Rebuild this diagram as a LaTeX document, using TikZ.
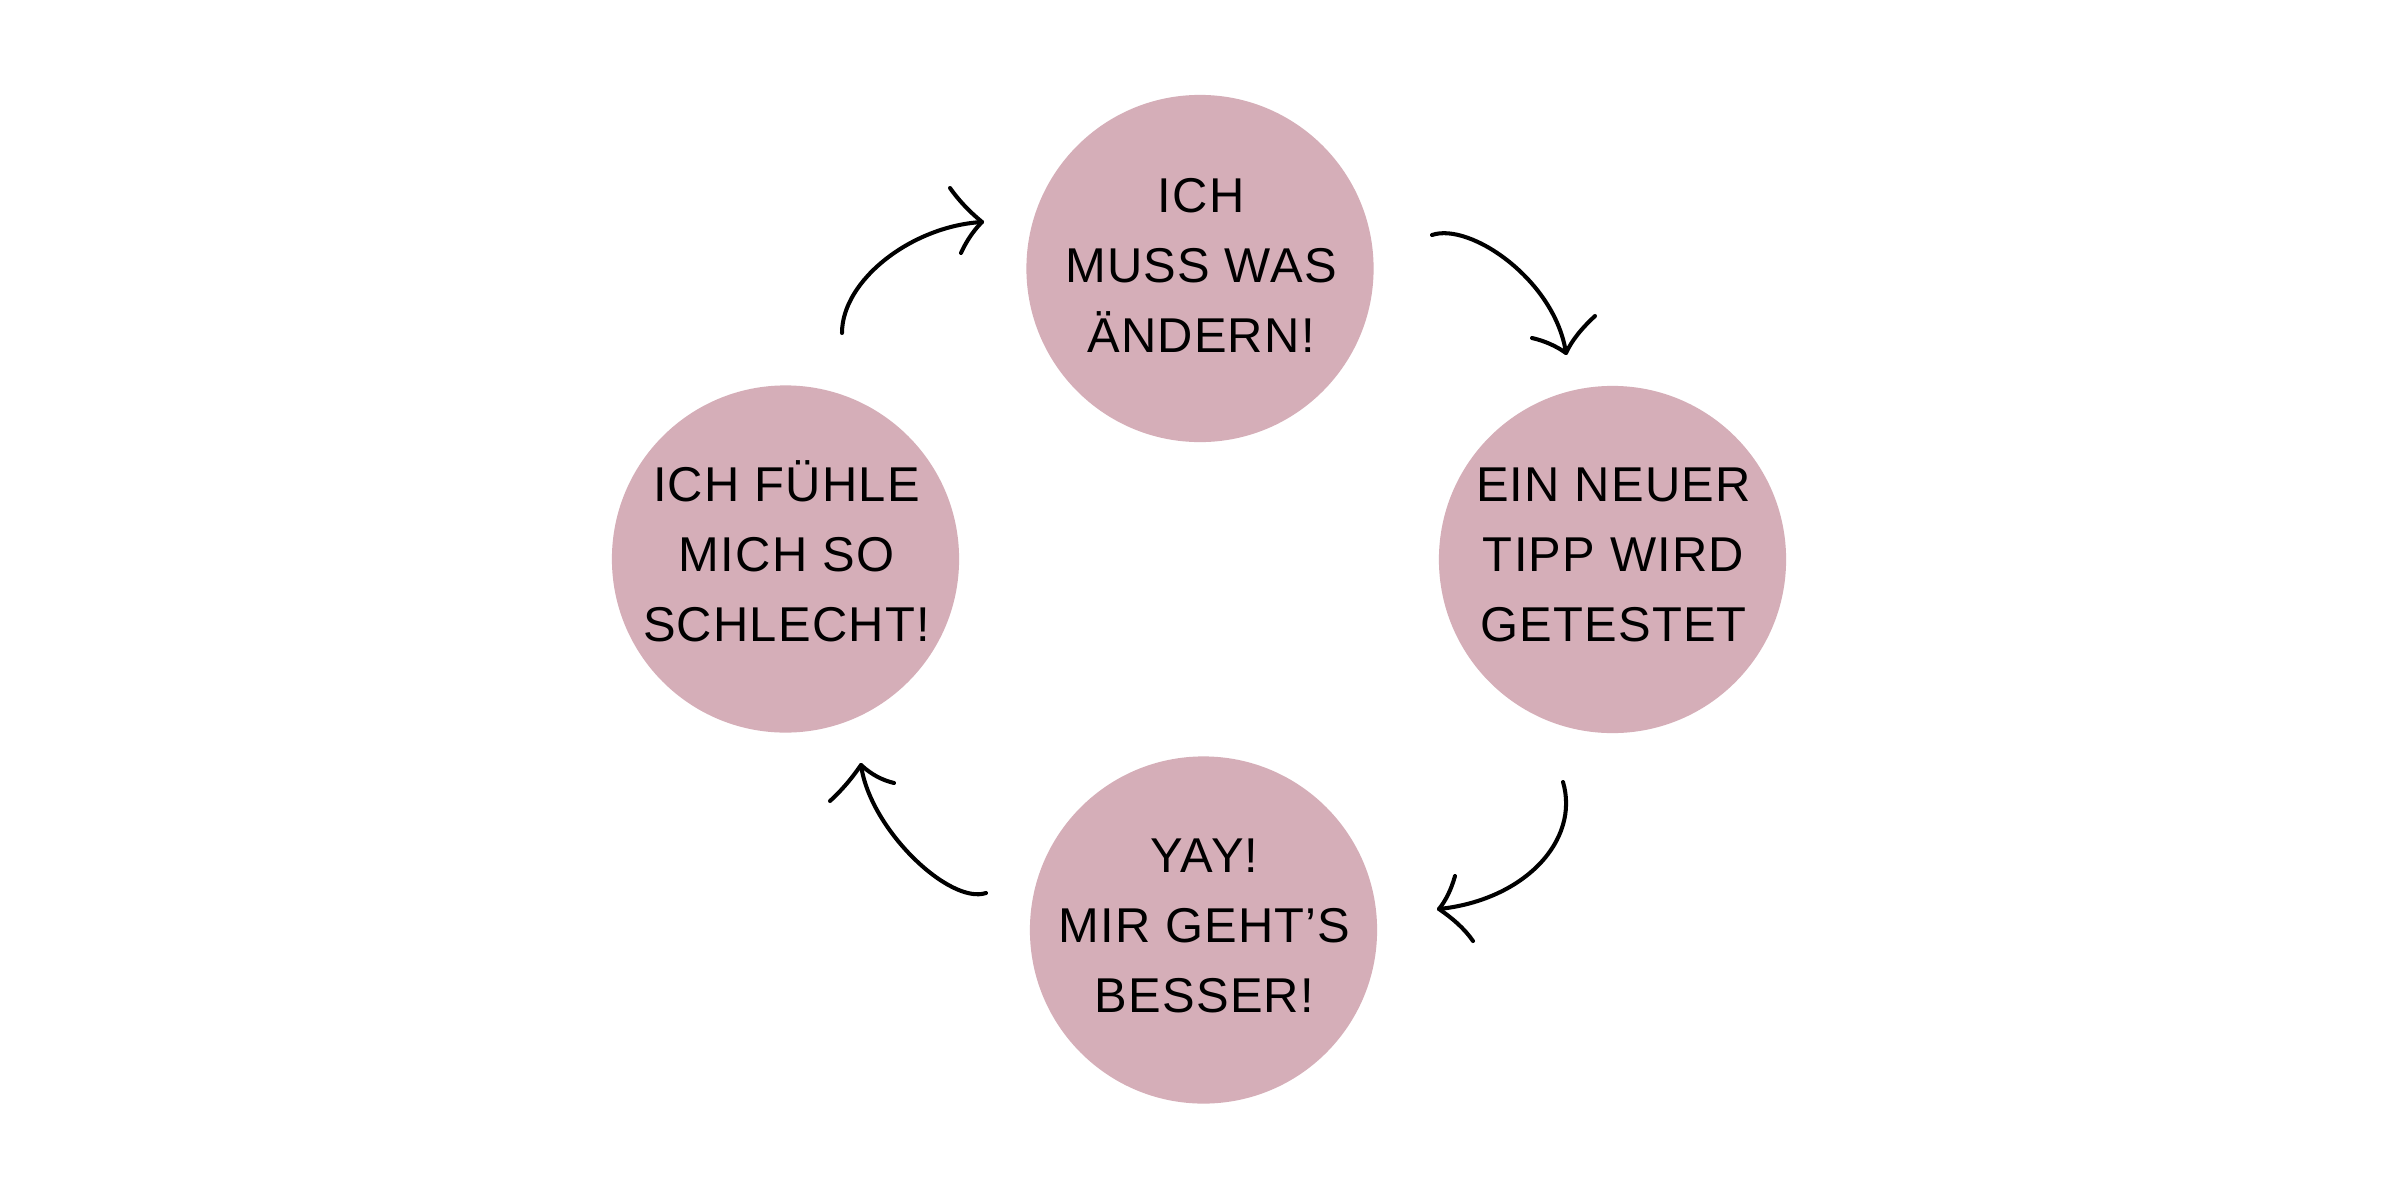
\documentclass[tikz,border=0pt]{standalone}
\usepackage{fontspec}
\setmainfont{Liberation Sans}[LetterSpace=2.5]
\usetikzlibrary{calc}
\definecolor{blobpink}{RGB}{213,174,184}
\newcommand\lstrut{\rule{0pt}{0.95em}}
\begin{document}
\begin{tikzpicture}[x=0.01cm,y=-0.01cm,
  blob/.style={circle,fill=blobpink,draw=none,minimum size=3.47cm,inner sep=0pt},
  blobtext/.style={align=center,inner sep=0pt,text=black,font=\fontsize{13.9pt}{19.9pt}\selectfont},
  sketch/.style={draw=black,line width=1.15pt,line cap=round,line join=round}]
\useasboundingbox (0,0) rectangle (2400,1200);
\fill[white] (0,0) rectangle (2400,1200);

% circles
\node[blob] (ctop)   at (1200,268.5) {};
\node[blob] (cright) at (1612.5,559.5) {};
\node[blob] (cbot)   at (1203.5,930) {};
\node[blob] (cleft)  at (785.5,559) {};

% texts
\node[blobtext] (ttop)   at (1201,258.8) {\lstrut ICH\\\lstrut MUSS WAS\\\lstrut ÄNDERN!};
\node[blobtext] (tright) at (1613.5,548.8) {\lstrut EIN NEUER\\\lstrut TIPP WIRD\\\lstrut GETESTET};
\node[blobtext] (tbot)   at (1204.5,919.8) {\lstrut YAY!\\\lstrut MIR GEHT’S\\\lstrut BESSER!};
\node[blobtext] (tleft)  at (786.5,548.8) {\lstrut ICH FÜHLE\\\lstrut MICH SO\\\lstrut SCHLECHT!};

% arrow 1: left -> top
\coordinate (a1s) at (842,333);
\coordinate (a1t) at (982,222);
\coordinate (a1b1) at (950,188);
\coordinate (a1b2) at (961,253);
\draw[sketch] (a1s) .. controls (842,280) and (912,226) .. (a1t);
\draw[sketch] (a1b1) .. controls (960,202) and (970,212) .. (a1t) .. controls (972,232) and (965,244) .. (a1b2);

% arrow 2: top -> right
\coordinate (a2s) at (1432,235);
\coordinate (a2t) at (1566,353);
\coordinate (a2b1) at (1532,338);
\coordinate (a2b2) at (1595,316);
\draw[sketch] (a2s) .. controls (1470,222) and (1555,280) .. (a2t);
\draw[sketch] (a2b1) .. controls (1545,341) and (1556,346) .. (a2t) .. controls (1572,340) and (1582,328) .. (a2b2);

% arrow 3: right -> bottom
\coordinate (a3s) at (1563,782);
\coordinate (a3t) at (1439,909);
\coordinate (a3b1) at (1455,876);
\coordinate (a3b2) at (1473,941);
\draw[sketch] (a3s) .. controls (1580,840) and (1525,900) .. (a3t);
\draw[sketch] (a3b1) .. controls (1451,890) and (1446,900) .. (a3t) .. controls (1452,918) and (1464,928) .. (a3b2);

% arrow 4: bottom -> left
\coordinate (a4s) at (986,893);
\coordinate (a4t) at (861,765);
\coordinate (a4b1) at (830,801);
\coordinate (a4b2) at (894,783);
\draw[sketch] (a4s) .. controls (950,905) and (870,830) .. (a4t);
\draw[sketch] (a4b1) .. controls (843,789) and (852,778) .. (a4t) .. controls (872,775) and (882,780) .. (a4b2);
\end{tikzpicture}
\end{document}
